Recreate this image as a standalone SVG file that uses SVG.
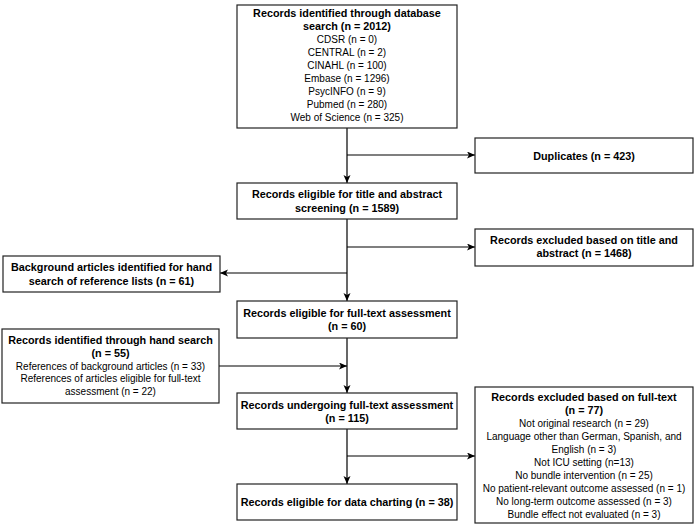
<svg xmlns="http://www.w3.org/2000/svg" width="695" height="526" viewBox="0 0 695 526">
<style>
.box{fill:#fff;stroke:#222;stroke-width:1.2}
text{font-family:"Liberation Sans",Arial,sans-serif;text-anchor:middle;fill:#000}
.b{font-weight:bold;font-size:10.8px}
.r{font-size:10px}
.c{fill:none;stroke:#000;stroke-width:1.2;marker-end:url(#ah)}
</style>
<defs>
<marker id="ah" markerUnits="userSpaceOnUse" markerWidth="9" markerHeight="8" refX="8" refY="3.5" orient="auto">
<path d="M0,0 L8,3.5 L0,7 L2,3.5 Z" fill="#000"/>
</marker>
</defs>
<rect width="695" height="526" fill="#fff"/>
<g id="connectors">
<path class="c" d="M347,128 V183"/>
<path class="c" d="M347,155 H475"/>
<path class="c" d="M347,219 V301"/>
<path class="c" d="M347,247 H475"/>
<path class="c" d="M347,273 H220"/>
<path class="c" d="M347,338 V393"/>
<path class="c" d="M219,366 H347"/>
<path class="c" d="M347,429 V484"/>
<path class="c" d="M347,456 H475"/>
</g>
<g id="db">
<rect class="box" x="237" y="5" width="220" height="123"/>
<text class="b" x="347" y="17">Records identified through database</text>
<text class="b" x="347" y="30">search (n = 2012)</text>
<text class="r" x="347" y="43">CDSR (n = 0)</text>
<text class="r" x="347" y="56">CENTRAL (n = 2)</text>
<text class="r" x="347" y="69">CINAHL (n = 100)</text>
<text class="r" x="347" y="82">Embase (n = 1296)</text>
<text class="r" x="347" y="95">PsycINFO (n = 9)</text>
<text class="r" x="347" y="108">Pubmed (n = 280)</text>
<text class="r" x="347" y="121">Web of Science (n = 325)</text>
</g>
<g id="dup">
<rect class="box" x="475" y="138" width="218" height="35"/>
<text class="b" x="584" y="159.5">Duplicates (n = 423)</text>
</g>
<g id="ta">
<rect class="box" x="237" y="183" width="220" height="36"/>
<text class="b" x="347" y="198">Records eligible for title and abstract</text>
<text class="b" x="347" y="212">screening (n = 1589)</text>
</g>
<g id="taex">
<rect class="box" x="475" y="229" width="218" height="37"/>
<text class="b" x="584" y="244">Records excluded based on title and</text>
<text class="b" x="584" y="257">abstract (n = 1468)</text>
</g>
<g id="bg">
<rect class="box" x="3" y="256" width="217" height="36"/>
<text class="b" x="111.5" y="271">Background articles identified for hand</text>
<text class="b" x="111.5" y="285">search of reference lists (n = 61)</text>
</g>
<g id="ft">
<rect class="box" x="237" y="301" width="220" height="37"/>
<text class="b" x="347" y="317">Records eligible for full-text assessment</text>
<text class="b" x="347" y="330">(n = 60)</text>
</g>
<g id="hand">
<rect class="box" x="2" y="329" width="217" height="74"/>
<text class="b" x="110.5" y="344">Records identified through hand search</text>
<text class="b" x="110.5" y="356.5">(n = 55)</text>
<text class="r" x="110.5" y="369.5">References of background articles (n = 33)</text>
<text class="r" x="110.5" y="382">References of articles eligible for full-text</text>
<text class="r" x="110.5" y="394.5">assessment (n = 22)</text>
</g>
<g id="und">
<rect class="box" x="237" y="393" width="220" height="36"/>
<text class="b" x="347" y="409">Records undergoing full-text assessment</text>
<text class="b" x="347" y="422">(n = 115)</text>
</g>
<g id="ftex">
<rect class="box" x="475" y="387" width="218" height="136"/>
<text class="b" x="584" y="401">Records excluded based on full-text</text>
<text class="b" x="584" y="414">(n = 77)</text>
<text class="r" x="584" y="427">Not original research (n = 29)</text>
<text class="r" x="584" y="440">Language other than German, Spanish, and</text>
<text class="r" x="584" y="453">English (n = 3)</text>
<text class="r" x="584" y="466">Not ICU setting (n=13)</text>
<text class="r" x="584" y="479">No bundle intervention (n = 25)</text>
<text class="r" x="584" y="492">No patient-relevant outcome assessed (n = 1)</text>
<text class="r" x="584" y="505">No long-term outcome assessed (n = 3)</text>
<text class="r" x="584" y="518">Bundle effect not evaluated (n = 3)</text>
</g>
<g id="chart">
<rect class="box" x="237" y="484" width="220" height="36"/>
<text class="b" x="347" y="506">Records eligible for data charting (n = 38)</text>
</g>
</svg>
